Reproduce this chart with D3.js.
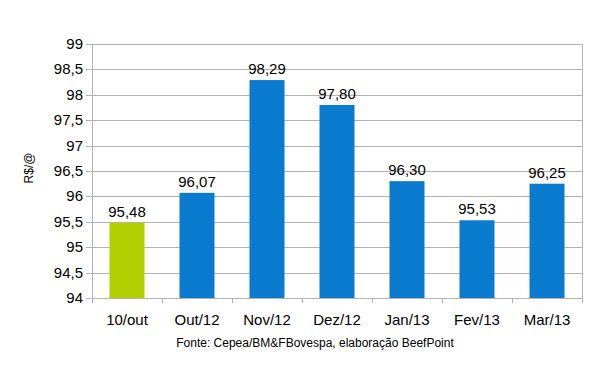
<!DOCTYPE html>
<html>
<head>
<meta charset="utf-8">
<script src="https://cdn.jsdelivr.net/npm/d3@7"></script>
<style>
  body { margin: 0; background: #fff; }
  text { font-family: "Liberation Sans", Arial, sans-serif; fill: #000; }
</style>
</head>
<body>
<div class="container"></div>
<script>
var categories = ["10/out", "Out/12", "Nov/12", "Dez/12", "Jan/13", "Fev/13", "Mar/13"];
var values = [95.48, 96.07, 98.29, 97.80, 96.30, 95.53, 96.25];
var barColors = ["#b2d000", "#0b7bcf", "#0b7bcf", "#0b7bcf", "#0b7bcf", "#0b7bcf", "#0b7bcf"];
var yTicks = [94, 94.5, 95, 95.5, 96, 96.5, 97, 97.5, 98, 98.5, 99];

var iWidth = 606, iHeight = 370;
var mLeft = 92, mRight = 582, mTop = 44, mBottom = 298;

var fmt = function(v, dec) {
	return (dec === undefined ? String(v) : v.toFixed(dec)).replace(".", ",");
};

var oSVG = d3.select(".container")
	.append("svg")
	.attr("width", iWidth)
	.attr("height", iHeight);

var x = d3.scaleBand().domain(categories).range([mLeft, mRight]).paddingInner(0.5).paddingOuter(0.25);
var xb = d3.scaleBand().domain(categories).range([mLeft, mRight]);
var y = d3.scaleLinear().domain([94, 99]).range([mBottom, mTop]);

// grid
oSVG.append("g")
	.selectAll("line")
	.data(yTicks)
	.enter()
	.append("line")
	.attr("x1", mLeft - 6)
	.attr("x2", mRight)
	.attr("y1", function(d) { return Math.round(y(d)) + 0.5; })
	.attr("y2", function(d) { return Math.round(y(d)) + 0.5; })
	.attr("stroke", "#b3b3b3")
	.attr("stroke-width", 1);

// right border
oSVG.append("line")
	.attr("x1", mRight + 0.5).attr("x2", mRight + 0.5)
	.attr("y1", mTop).attr("y2", mBottom)
	.attr("stroke", "#b3b3b3");

// y tick labels
oSVG.append("g")
	.selectAll("text")
	.data(yTicks)
	.enter()
	.append("text")
	.attr("x", mLeft - 9)
	.attr("y", function(d) { return y(d) + 5; })
	.attr("text-anchor", "end")
	.style("font-size", "15px")
	.text(function(d) { return fmt(d); });

// bars
oSVG.append("g")
	.selectAll("rect")
	.data(values)
	.enter()
	.append("rect")
	.attr("x", function(d, i) { return x(categories[i]); })
	.attr("width", x.bandwidth())
	.attr("y", function(d) { return y(d); })
	.attr("height", function(d) { return mBottom - y(d); })
	.style("fill", function(d, i) { return barColors[i]; });

// value labels
oSVG.append("g")
	.selectAll("text")
	.data(values)
	.enter()
	.append("text")
	.attr("x", function(d, i) { return x(categories[i]) + x.bandwidth() / 2; })
	.attr("y", function(d) { return y(d) - 6; })
	.attr("text-anchor", "middle")
	.style("font-size", "15px")
	.text(function(d) { return fmt(d, 2); });

// axes lines
oSVG.append("line")
	.attr("x1", mLeft + 0.5).attr("x2", mLeft + 0.5)
	.attr("y1", mTop).attr("y2", mBottom + 4)
	.attr("stroke", "#b3b3b3");
oSVG.append("line")
	.attr("x1", mLeft).attr("x2", mRight)
	.attr("y1", mBottom + 0.5).attr("y2", mBottom + 0.5)
	.attr("stroke", "#b3b3b3");

// x ticks at band boundaries
var bounds = categories.map(function(c) { return xb(c); }).concat([mRight]);
oSVG.append("g")
	.selectAll("line")
	.data(bounds)
	.enter()
	.append("line")
	.attr("x1", function(d) { return Math.round(d) + 0.5; })
	.attr("x2", function(d) { return Math.round(d) + 0.5; })
	.attr("y1", mBottom)
	.attr("y2", mBottom + 5)
	.attr("stroke", "#b3b3b3");

// category labels
oSVG.append("g")
	.selectAll("text")
	.data(categories)
	.enter()
	.append("text")
	.attr("x", function(d) { return xb(d) + xb.bandwidth() / 2; })
	.attr("y", 325)
	.attr("text-anchor", "middle")
	.style("font-size", "15px")
	.text(function(d) { return d; });

// y title
oSVG.append("text")
	.attr("transform", "translate(33,168) rotate(-90)")
	.attr("text-anchor", "middle")
	.style("font-size", "12px")
	.text("R$/@");

// source
oSVG.append("text")
	.attr("x", 315)
	.attr("y", 347)
	.attr("text-anchor", "middle")
	.style("font-size", "12px")
	.text("Fonte: Cepea/BM&FBovespa, elaboração BeefPoint");
</script>
</body>
</html>
